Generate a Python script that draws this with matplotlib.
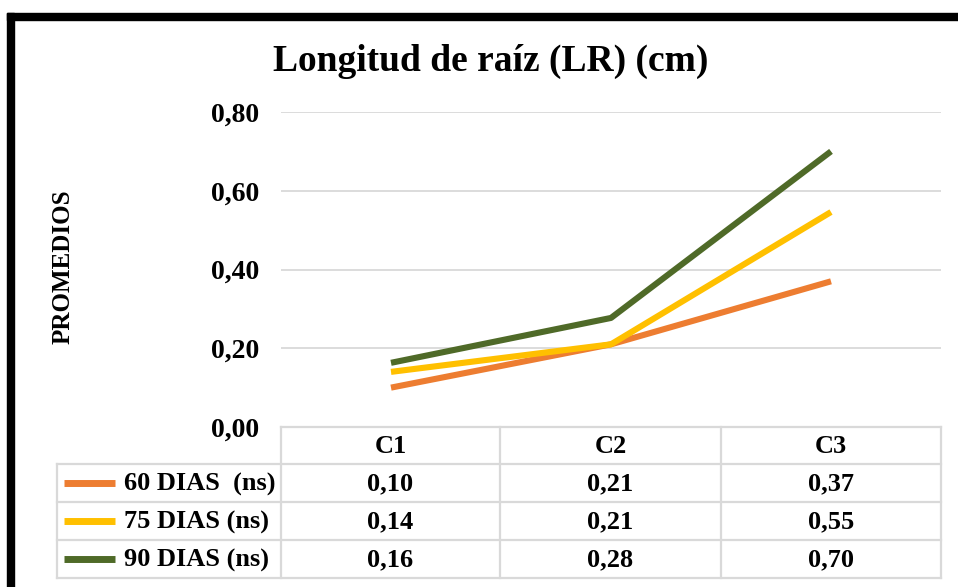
import matplotlib
matplotlib.use("Agg")
import matplotlib.pyplot as plt
from matplotlib.patches import Rectangle
from matplotlib.lines import Line2D

# data
categories = ["C1", "C2", "C3"]
series_names = ["60 DIAS  (ns)", "75 DIAS (ns)", "90 DIAS (ns)"]
dias_60 = [0.10, 0.21, 0.37]
dias_75 = [0.14, 0.21, 0.546]
dias_90 = [0.163, 0.277, 0.70]
series_values = [dias_60, dias_75, dias_90]
colors = ["#ED7D31", "#FFC000", "#4F6A28"]
yticks = [0.0, 0.2, 0.4, 0.6, 0.8]

W, H = 958, 587
plt.rcParams["font.family"] = ["Liberation Serif", "DejaVu Serif"]
plt.rcParams["font.weight"] = "bold"

fig = plt.figure(figsize=(W / 100, H / 100), dpi=100)


def fx(px):
    return px / W


def fy(py):
    return 1 - py / H


# plot area in pixels (from reference)
left, right, top, bottom = 281, 941, 112, 427
ax = fig.add_axes([fx(left), fy(bottom), fx(right - left), (bottom - top) / H])
x = list(range(len(categories)))
for vals, c in zip(series_values, colors):
    ax.plot(x, vals, color=c, lw=4.4, solid_capstyle="butt", zorder=3)

ax.set_xlim(-0.5, len(categories) - 0.5)
ax.set_ylim(0, 0.8)
ax.set_yticks(yticks)
ax.set_yticklabels([f"{v:.2f}".replace(".", ",") for v in yticks])
ax.set_xticks([])
ax.tick_params(axis="y", length=0, pad=16, labelsize=20)
for lab in ax.get_yticklabels():
    lab.set_fontweight("bold")
ax.grid(axis="y", color="#D9D9D9", lw=1.3)
ax.set_axisbelow(True)
for s in ax.spines.values():
    s.set_visible(False)

# title / y label
fig.text(fx(491), fy(61), "Longitud de raíz (LR) (cm)", ha="center", va="center",
         fontsize=27, fontweight="bold")
fig.text(fx(63), fy(267), "PROMEDIOS", rotation=90, ha="center", va="center",
         fontsize=18, fontweight="bold")

# data table
grid_c = "#D9D9D9"
row_edges = [427, 464, 502, 540, 578]
col_edges = [left, 500, 721, right]
leg_left = 57


def hline(y, x0, x1):
    fig.add_artist(Line2D([fx(x0), fx(x1)], [fy(y), fy(y)], color=grid_c, lw=1.6,
                          transform=fig.transFigure))


def vline(x0, y0, y1):
    fig.add_artist(Line2D([fx(x0), fx(x0)], [fy(y0), fy(y1)], color=grid_c, lw=1.6,
                          transform=fig.transFigure))


hline(row_edges[0], left, right)
for y in row_edges[1:]:
    hline(y, leg_left, right)
for xc in col_edges:
    vline(xc, row_edges[0], row_edges[-1])
vline(leg_left, row_edges[1], row_edges[-1])

col_centers = [(a + b) / 2 for a, b in zip(col_edges[:-1], col_edges[1:])]
for cx, cat in zip(col_centers, categories):
    fig.text(fx(cx), fy((row_edges[0] + row_edges[1]) / 2 + 1), cat, ha="center",
             va="center", fontsize=19, fontweight="bold")

for i, (name, vals, c) in enumerate(zip(series_names, series_values, colors)):
    yc = (row_edges[i + 1] + row_edges[i + 2]) / 2
    fig.add_artist(Line2D([fx(64), fx(115)], [fy(yc), fy(yc)], color=c, lw=5,
                          solid_capstyle="butt", transform=fig.transFigure))
    fig.text(fx(124), fy(yc + 1), name, ha="left", va="center", fontsize=19,
             fontweight="bold")
    for cx, v in zip(col_centers, vals):
        fig.text(fx(cx), fy(yc + 1), f"{v:.2f}".replace(".", ","), ha="center",
                 va="center", fontsize=19, fontweight="bold")

# black frame (left and top)
fig.add_artist(Rectangle((fx(7), 0), fx(7), fy(13), color="black",
                         transform=fig.transFigure))
fig.add_artist(Rectangle((fx(7), fy(20)), 1 - fx(7), 7 / H, color="black",
                         transform=fig.transFigure))

fig.savefig("out.png", dpi=100)
